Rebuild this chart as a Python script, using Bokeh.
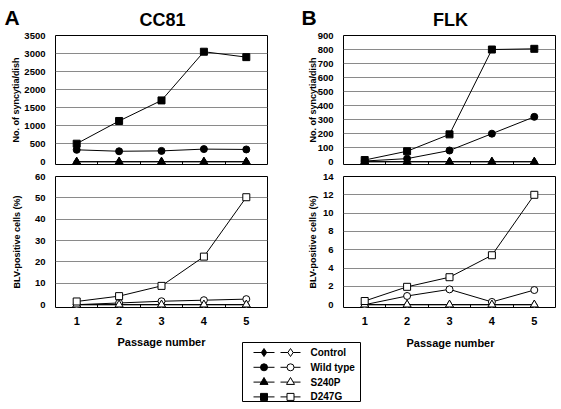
from bokeh.plotting import figure
from bokeh.layouts import column, row
from bokeh.models import Range1d, FixedTicker
from bokeh.core.properties import value
from bokeh.embed import file_html
from bokeh.resources import INLINE

# ---------------- data ----------------
passage = [1, 2, 3, 4, 5]
series_names = ["Control", "Wild type", "S240P", "D247G"]
series_markers = ["diamond", "circle", "triangle", "square"]
panel_letters = ["A", "B"]
panel_titles = ["CC81", "FLK"]

# CC81 - number of syncytia / dish
cc81_syn_control = [0, 0, 0, 0, 0]
cc81_syn_wt = [330, 290, 300, 350, 340]
cc81_syn_s240p = [0, 0, 0, 0, 0]
cc81_syn_d247g = [500, 1130, 1700, 3050, 2900]
# CC81 - BLV-positive cells (%)
cc81_blv_control = [0, 0, 0, 0, 0]
cc81_blv_wt = [0.0, 0.8, 1.6, 2.1, 2.6]
cc81_blv_s240p = [0, 0, 0, 0, 0]
cc81_blv_d247g = [1.5, 4.0, 8.8, 22.5, 50.3]
# FLK - number of syncytia / dish
flk_syn_control = [0, 0, 0, 0, 0]
flk_syn_wt = [5, 22, 80, 200, 320]
flk_syn_s240p = [0, 0, 0, 0, 0]
flk_syn_d247g = [12, 75, 195, 800, 805]
# FLK - BLV-positive cells (%)
flk_blv_control = [0, 0, 0, 0, 0]
flk_blv_wt = [0.0, 0.95, 1.67, 0.3, 1.6]
flk_blv_s240p = [0, 0, 0, 0, 0]
flk_blv_d247g = [0.4, 1.95, 3.0, 5.4, 12.0]

cc81_syn_ticks = [0, 500, 1000, 1500, 2000, 2500, 3000, 3500]
cc81_blv_ticks = [0, 10, 20, 30, 40, 50, 60]
flk_syn_ticks = [0, 100, 200, 300, 400, 500, 600, 700, 800, 900]
flk_blv_ticks = [0, 2, 4, 6, 8, 10, 12, 14]

FONT = "Liberation Sans"
GRID = "#8a8a8a"
SIZES = {"diamond": 8, "circle": 7, "triangle": 8, "square": 7}


def panel(series, ticks, ylabel, frame_w, b_left, b_right, b_top, frame_h, b_bottom,
          show_x_labels, ylabel_standoff, filled):
    ymax = ticks[-1]
    pad = ymax * 0.022
    p = figure(frame_width=frame_w, frame_height=frame_h,
               min_border_left=b_left, min_border_right=b_right,
               min_border_top=b_top, min_border_bottom=b_bottom,
               x_range=Range1d(0.5, 5.5), y_range=Range1d(-pad, ymax),
               toolbar_location=None, output_backend="svg")
    p.outline_line_color = "black"
    p.outline_line_width = 1
    p.xgrid.grid_line_color = None
    p.ygrid.ticker = FixedTicker(ticks=ticks[1:])
    p.ygrid.grid_line_color = GRID
    p.ygrid.grid_line_width = 1

    ya = p.yaxis[0]
    ya.ticker = FixedTicker(ticks=ticks)
    ya.axis_line_color = None
    ya.major_tick_line_color = None
    ya.minor_tick_line_color = None
    ya.major_label_standoff = 4
    ya.major_label_text_font = FONT
    ya.major_label_text_font_style = "bold"
    ya.major_label_text_font_size = "9.5px"
    ya.major_label_text_color = "black"
    ya.axis_label = ylabel
    ya.axis_label_text_font = FONT
    ya.axis_label_text_font_style = "bold"
    ya.axis_label_text_font_size = "9px"
    ya.axis_label_text_color = "black"
    ya.axis_label_standoff = ylabel_standoff

    xa = p.xaxis[0]
    xa.axis_line_color = None
    xa.major_tick_line_color = None
    xa.minor_tick_in = 3
    xa.minor_tick_out = 0
    xa.minor_tick_line_color = "black"
    if show_x_labels:
        xa.ticker = FixedTicker(ticks=passage, minor_ticks=[1.5, 2.5, 3.5, 4.5])
        xa.major_label_standoff = 3
        xa.major_label_text_font = FONT
        xa.major_label_text_font_style = "bold"
        xa.major_label_text_font_size = "11px"
        xa.major_label_text_color = "black"
    else:
        xa.ticker = FixedTicker(ticks=[], minor_ticks=[1.5, 2.5, 3.5, 4.5])
        xa.major_label_standoff = 0

    for vals, mk in zip(series, series_markers):
        p.line(passage, vals, line_color="black", line_width=1)
        p.scatter(passage, vals, marker=mk, size=SIZES[mk],
                  fill_color="black" if filled else "white",
                  line_color="black", line_width=1)
    return p


def strip(h):
    # a plain strip whose data coordinates are its own pixels (y downwards)
    s = figure(width=561, height=h, x_range=Range1d(0, 561), y_range=Range1d(h, 0),
               x_axis_type=None, y_axis_type=None, min_border=0,
               toolbar_location=None, output_backend="svg")
    s.outline_line_color = None
    s.grid.grid_line_color = None
    return s


# geometry (page px)
L_BL, L_FW, L_BR = 55, 212, 13      # left column: 0..280, frame 55..267
R_BL, R_FW, R_BR = 63, 212, 6       # right column: 280..561, frame 343..555
T_BT, T_FH, T_BB = 5, 129, 6        # top row: 30..170, frame 35..164
B_BT, B_FH, B_BB = 6, 131, 27       # bottom row: 170..334, frame 176..307

# --- title strip (page y 0..30)
top = strip(30)
top.text(x=[4, 301], y=[17, 17], text=panel_letters, text_font=value(FONT),
         text_font_style="bold", text_font_size="21px", text_align="left",
         text_baseline="middle", text_color="black")
top.text(x=[162, 450], y=[19.5, 19.5], text=panel_titles, text_font=value(FONT),
         text_font_style="bold", text_font_size="18px", text_align="center",
         text_baseline="middle", text_color="black")

tl = panel([cc81_syn_control, cc81_syn_wt, cc81_syn_s240p, cc81_syn_d247g],
           cc81_syn_ticks, "No. of syncytia/dish", L_FW, L_BL, L_BR, T_BT, T_FH, T_BB,
           False, 0, True)
tr = panel([flk_syn_control, flk_syn_wt, flk_syn_s240p, flk_syn_d247g],
           flk_syn_ticks, "No. of syncytia/dish", R_FW, R_BL, R_BR, T_BT, T_FH, T_BB,
           False, -3, True)
bl = panel([cc81_blv_control, cc81_blv_wt, cc81_blv_s240p, cc81_blv_d247g],
           cc81_blv_ticks, "BLV-positive cells (%)", L_FW, L_BL, L_BR, B_BT, B_FH, B_BB,
           True, 10, False)
br = panel([flk_blv_control, flk_blv_wt, flk_blv_s240p, flk_blv_d247g],
           flk_blv_ticks, "BLV-positive cells (%)", R_FW, R_BL, R_BR, B_BT, B_FH, B_BB,
           True, 2, False)

# --- bottom strip: x-axis titles and legend (page y 334..408)
leg = strip(74)
leg.text(x=[161, 450], y=[7, 8], text=["Passage number", "Passage number"],
         text_font=value(FONT), text_font_style="bold", text_font_size="11px",
         text_align="center", text_baseline="middle", text_color="black")

box_l, box_r, box_t, box_b = 242, 360, 8, 67
leg.quad(left=[box_l], right=[box_r], top=[box_t], bottom=[box_b],
         fill_color="white", line_color="black", line_width=1)
row_y0, row_dy = 18, 14.8
rows_y = [row_y0 + i * row_dy for i in range(len(series_names))]
for yy, mk in zip(rows_y, series_markers):
    leg.line([253, 274], [yy, yy], line_color="black", line_width=1)
    leg.scatter([263.5], [yy], marker=mk, size=SIZES[mk], fill_color="black",
                line_color="black")
    leg.line([280, 300], [yy, yy], line_color="black", line_width=1)
    leg.scatter([290], [yy], marker=mk, size=SIZES[mk], fill_color="white",
                line_color="black")
leg.text(x=[310] * len(series_names), y=rows_y, text=series_names,
         text_font=value(FONT), text_font_style="bold", text_font_size="10px",
         text_align="left", text_baseline="middle", text_color="black")

layout = column(top, row(tl, tr), row(bl, br), leg)
open("out.html", "w").write(file_html(layout, INLINE))
